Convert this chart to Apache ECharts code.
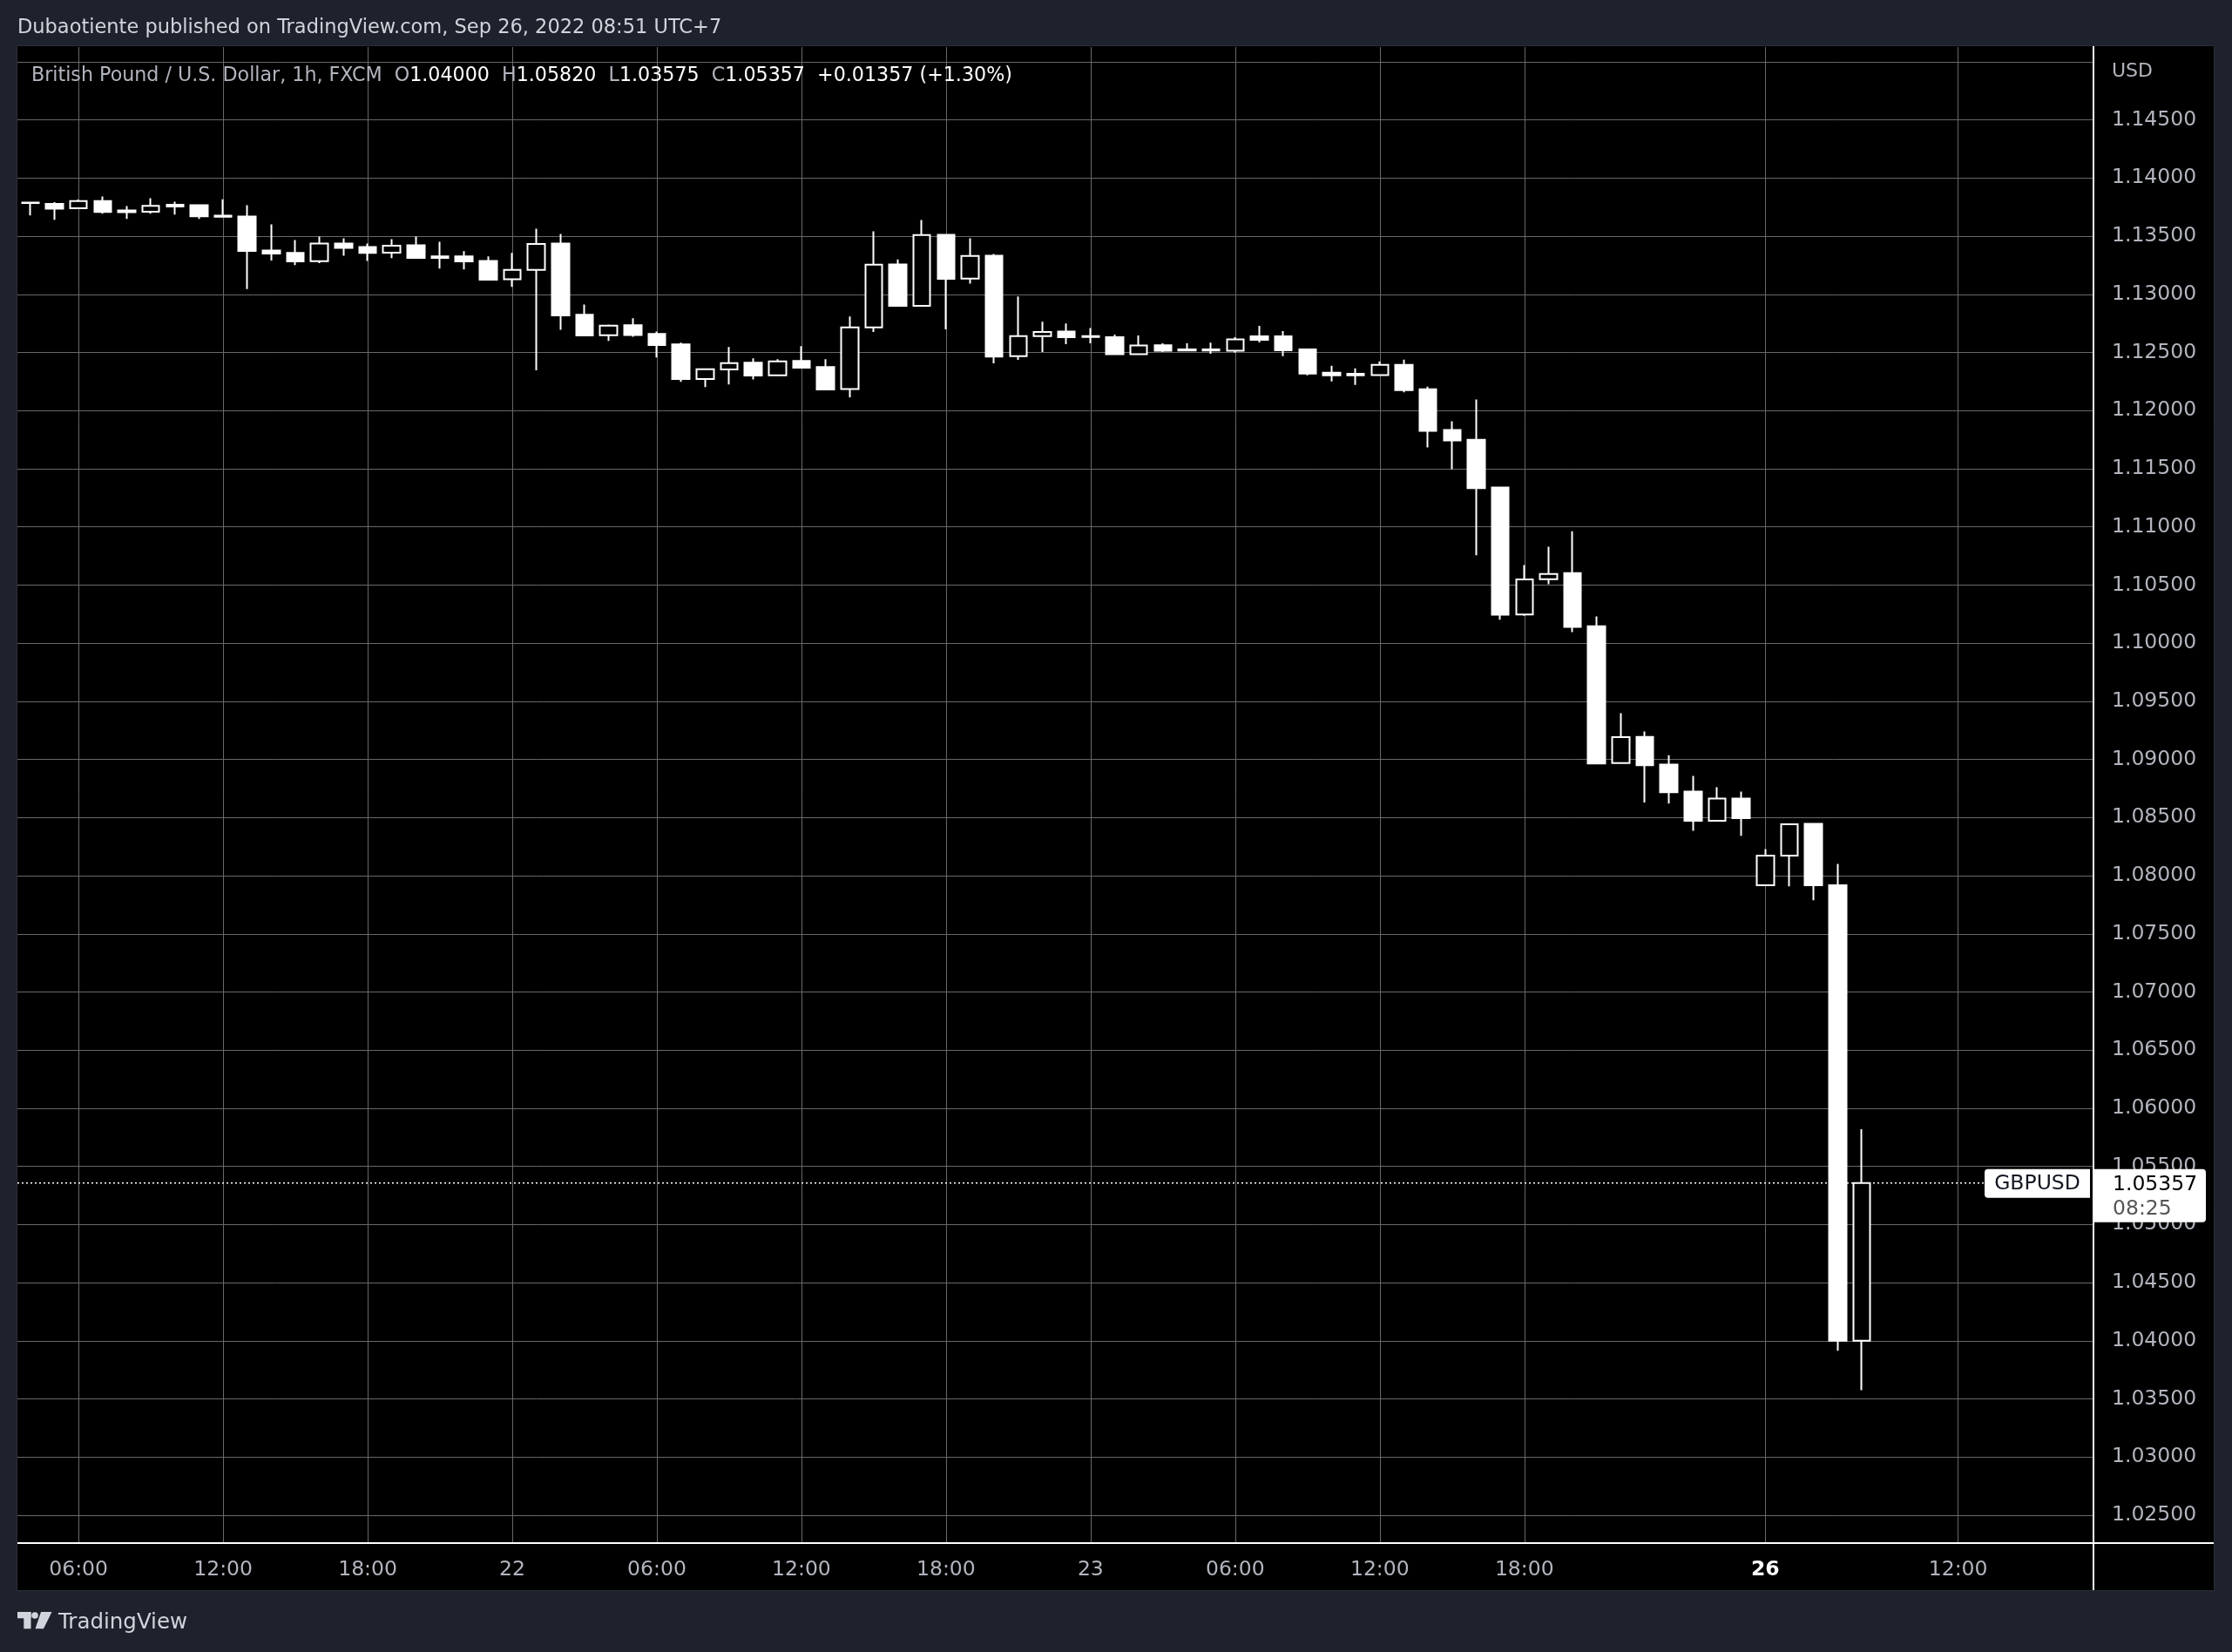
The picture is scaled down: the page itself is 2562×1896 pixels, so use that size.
<!DOCTYPE html>
<html><head><meta charset="utf-8">
<script src="https://cdn.jsdelivr.net/npm/echarts@6/dist/echarts.min.js"></script>
<style>html,body{margin:0;padding:0;background:#1e222d;}#main{width:2562px;height:1896px;}</style>
</head><body><div id="main"></div>
<script>
// ---- categories: hourly bars (UTC+7), weekend gap skipped; last 9 are empty future slots
const categories = [
 '21 04:00','21 05:00','21 06:00','21 07:00','21 08:00','21 09:00','21 10:00','21 11:00','21 12:00','21 13:00',
 '21 14:00','21 15:00','21 16:00','21 17:00','21 18:00','21 19:00','21 20:00','21 21:00','21 22:00','21 23:00',
 '22 00:00','22 01:00','22 02:00','22 03:00','22 04:00','22 05:00','22 06:00','22 07:00','22 08:00','22 09:00',
 '22 10:00','22 11:00','22 12:00','22 13:00','22 14:00','22 15:00','22 16:00','22 17:00','22 18:00','22 19:00',
 '22 20:00','22 21:00','22 22:00','22 23:00',
 '23 00:00','23 01:00','23 02:00','23 03:00','23 04:00','23 05:00','23 06:00','23 07:00','23 08:00','23 09:00',
 '23 10:00','23 11:00','23 12:00','23 13:00','23 14:00','23 15:00','23 16:00','23 17:00','23 18:00','23 19:00',
 '23 20:00','23 21:00','23 22:00','23 23:00',
 '24 00:00','24 01:00','24 02:00','24 03:00',
 '26 04:00','26 05:00','26 06:00','26 07:00','26 08:00','26 09:00','26 10:00','26 11:00','26 12:00','26 13:00',
 '26 14:00','26 15:00','26 16:00','26 17:00'
];

const opens = [
 1.13790,1.13779,1.13741,1.13803,1.13721,1.13711,1.13771,1.13766,1.13677,1.13669,
 1.13378,1.13356,1.13286,1.13438,1.13408,1.13358,1.13423,1.13326,1.13326,1.13288,
 1.13129,1.13210,1.13438,1.12824,1.12649,1.12734,1.12659,1.12569,1.12272,1.12354,
 1.12412,1.12304,1.12427,1.12374,1.12185,1.12716,1.13258,1.12901,1.13512,1.13136,
 1.13333,1.12469,1.12641,1.12681,1.12641,1.12632,1.12485,1.12562,1.12527,1.12527,
 1.12515,1.12639,1.12639,1.12527,1.12326,1.12316,1.12306,1.12393,1.12184,1.11833,
 1.11749,1.11339,1.10247,1.10550,1.10602,1.10146,1.08968,1.09194,1.08956,1.08724,
 1.08472,1.08664,1.07918,1.08172,1.08446,1.07918,1.04000
];
const highs = [
 1.13793,1.13793,1.13816,1.13841,1.13759,1.13826,1.13796,1.13774,1.13818,1.13766,
 1.13602,1.13468,1.13497,1.13482,1.13438,1.13475,1.13497,1.13453,1.13371,1.13326,
 1.13356,1.13565,1.13520,1.12913,1.12741,1.12794,1.12681,1.12584,1.12357,1.12547,
 1.12449,1.12442,1.12554,1.12442,1.12809,1.13542,1.13300,1.13640,1.13512,1.13483,
 1.13348,1.12981,1.12764,1.12749,1.12711,1.12654,1.12647,1.12580,1.12580,1.12585,
 1.12632,1.12729,1.12684,1.12535,1.12386,1.12363,1.12423,1.12438,1.12206,1.11908,
 1.12096,1.11339,1.10671,1.10829,1.10963,1.10229,1.09398,1.09240,1.09037,1.08859,
 1.08761,1.08724,1.08229,1.08443,1.08446,1.08102,1.05820
];
const lows = [
 1.13679,1.13642,1.13740,1.13694,1.13649,1.13694,1.13687,1.13649,1.13664,1.13045,
 1.13291,1.13251,1.13268,1.13333,1.13288,1.13311,1.13313,1.13221,1.13214,1.13127,
 1.13065,1.12347,1.12696,1.12646,1.12599,1.12636,1.12457,1.12247,1.12202,1.12225,
 1.12269,1.12304,1.12369,1.12182,1.12115,1.12676,1.12901,1.12901,1.12699,1.13093,
 1.12407,1.12437,1.12504,1.12571,1.12579,1.12485,1.12485,1.12505,1.12515,1.12490,
 1.12498,1.12587,1.12468,1.12303,1.12251,1.12221,1.12306,1.12157,1.11684,1.11497,
 1.10757,1.10201,1.10235,1.10507,1.10095,1.08965,1.08968,1.08630,1.08621,1.08386,
 1.08472,1.08343,1.07918,1.07908,1.07788,1.03915,1.03575
];
const closes = [
 1.13785,1.13736,1.13803,1.13709,1.13706,1.13761,1.13756,1.13672,1.13667,1.13373,
 1.13351,1.13283,1.13438,1.13400,1.13356,1.13418,1.13313,1.13313,1.13283,1.13127,
 1.13211,1.13433,1.12819,1.12646,1.12731,1.12651,1.12564,1.12272,1.12357,1.12409,
 1.12302,1.12424,1.12369,1.12182,1.12716,1.13255,1.12901,1.13510,1.13133,1.13330,
 1.12464,1.12641,1.12676,1.12631,1.12634,1.12485,1.12560,1.12515,1.12517,1.12517,
 1.12612,1.12609,1.12520,1.12318,1.12303,1.12303,1.12393,1.12177,1.11826,1.11744,
 1.11333,1.10244,1.10548,1.10596,1.10140,1.08965,1.09192,1.08951,1.08718,1.08472,
 1.08664,1.08495,1.08172,1.08443,1.07918,1.04000,1.05357
];

// axis ticks
const yTickValues = [1.025,1.030,1.035,1.040,1.045,1.050,1.055,1.060,1.065,1.070,1.075,1.080,1.085,
  1.090,1.095,1.100,1.105,1.110,1.115,1.120,1.125,1.130,1.135,1.140,1.145,1.150];
const yLabelValues = [1.025,1.030,1.035,1.040,1.045,1.050,1.055,1.060,1.065,1.070,1.075,1.080,1.085,
  1.090,1.095,1.100,1.105,1.110,1.115,1.120,1.125,1.130,1.135,1.140,1.145];
const xTickAt = ['21 06:00','21 12:00','21 18:00','22 00:00','22 06:00','22 12:00','22 18:00',
  '23 00:00','23 06:00','23 12:00','23 18:00','26 04:00','26 12:00'];
const xTickText = ['06:00','12:00','18:00','22','06:00','12:00','18:00','23','06:00','12:00','18:00','26','12:00'];
const xTickStrong = ['26 04:00'];

const headerText = 'Dubaotiente published on TradingView.com, Sep 26, 2022 08:51 UTC+7';
const instrumentText = 'British Pound / U.S. Dollar, 1h, FXCM';
const symbolName = 'GBPUSD';
const countdown = '08:25';
const changeText = '+0.01357 (+1.30%)';

// ---------------------------------------------------------------
const FONT = '"DejaVu Sans"';
const GRID_C = '#686868';
const TXT = '#b2b5be';

const candleData = opens.map((o, i) => [categories.indexOf(categories[i]), o, closes[i], lows[i], highs[i]]);
const xTickIdx = xTickAt.map(k => categories.indexOf(k));
const xTickMap = {};
xTickIdx.forEach((idx, j) => { xTickMap[idx] = { text: xTickText[j], strong: xTickStrong.indexOf(xTickAt[j]) >= 0 }; });

const last = opens.length - 1;
const f5 = v => v.toFixed(5);

const legendRich = '{g|' + instrumentText + '}  {g|O}{w|' + f5(opens[last]) + '}  {g|H}{w|' + f5(highs[last]) +
  '}  {g|L}{w|' + f5(lows[last]) + '}  {g|C}{w|' + f5(closes[last]) + '}  {w|' + changeText + '}';

const chart = echarts.init(document.getElementById('main'), null, { renderer: 'canvas' });

const option = {
  animation: false,
  backgroundColor: '#000000',
  textStyle: { fontFamily: FONT },
  title: [
    { text: headerText, left: 20, top: 19, padding: 0, z: 20,
      textStyle: { color: '#d1d4dc', fontSize: 22.5, fontWeight: 'normal', fontFamily: FONT, lineHeight: 26 } },
    { text: legendRich, left: 36, top: 74, padding: 0, z: 20,
      textStyle: { fontSize: 22.2, fontWeight: 'normal', fontFamily: FONT, lineHeight: 26,
        rich: { g: { color: TXT, fontSize: 22.2, fontWeight: 'normal', fontFamily: FONT, lineHeight: 26 },
                w: { color: '#ffffff', fontSize: 22.2, fontWeight: 'normal', fontFamily: FONT, lineHeight: 26 } } } },
    { text: 'USD', left: 2424, top: 69, padding: 0, z: 20,
      textStyle: { color: TXT, fontSize: 22, fontWeight: 'normal', fontFamily: FONT, lineHeight: 26 } }
  ],
  grid: { left: 20, right: 160, top: 54, bottom: 125, containLabel: false },
  xAxis: {
    type: 'value', min: -0.535, max: 85.58,
    axisLine: { show: false },
    axisTick: { show: false, customValues: xTickIdx },
    splitLine: { show: true, lineStyle: { color: GRID_C, width: 1 } },
    axisLabel: {
      customValues: xTickIdx, margin: 19, color: TXT, fontSize: 23.5, fontFamily: FONT,
      formatter: v => { const t = xTickMap[v]; if (!t) return ''; return t.strong ? '{s|' + t.text + '}' : t.text; },
      rich: { s: { color: '#ffffff', fontWeight: 'bold', fontSize: 23.5, fontFamily: FONT } }
    }
  },
  yAxis: {
    type: 'value', position: 'right', min: 1.0226, max: 1.15127, scale: true,
    axisLine: { show: false },
    axisTick: { show: false, customValues: yTickValues },
    splitLine: { show: true, lineStyle: { color: GRID_C, width: 1 } },
    axisLabel: { customValues: yLabelValues, formatter: v => f5(v), color: TXT, fontSize: 23.5,
      fontFamily: FONT, margin: 22, align: 'left', verticalAlign: 'middle', lineHeight: 34, padding: [6, 0, 0, 0] }
  },
  series: [{
    type: 'candlestick',
    data: candleData,
    barWidth: 20,
    silent: true,
    itemStyle: { color: '#000000', color0: '#ffffff', borderColor: '#ffffff', borderColor0: '#ffffff', borderWidth: 2 }
  }]
};
chart.setOption(option);

// last-price guide line and tags, placed through the y scale
const py = chart.convertToPixel({ yAxisIndex: 0 }, closes[last]);
const frame = '#1e222d', border = '#2a2e39';
chart.setOption({
  graphic: [
    { type: 'line', z: 1, shape: { x1: 20, y1: py, x2: 2400, y2: py }, style: { stroke: '#ffffff', lineWidth: 1.5, lineDash: [2, 3] }, silent: true },
    // outer frame bands
    { type: 'rect', z: 10, shape: { x: 0, y: 0, width: 2562, height: 53 }, style: { fill: frame }, silent: true },
    { type: 'rect', z: 10, shape: { x: 0, y: 1825, width: 2562, height: 71 }, style: { fill: frame }, silent: true },
    { type: 'rect', z: 10, shape: { x: 0, y: 0, width: 20, height: 1896 }, style: { fill: frame }, silent: true },
    { type: 'rect', z: 10, shape: { x: 2541, y: 0, width: 21, height: 1896 }, style: { fill: frame }, silent: true },
    { type: 'rect', z: 11, shape: { x: 19.5, y: 52.5, width: 2522, height: 1773 }, style: { fill: null, stroke: border, lineWidth: 1 }, silent: true },
    // axis separators
    { type: 'line', z: 12, shape: { x1: 20, y1: 1771, x2: 2541, y2: 1771 }, style: { stroke: '#ffffff', lineWidth: 2 }, silent: true },
    { type: 'line', z: 12, shape: { x1: 2403, y1: 53, x2: 2403, y2: 1825 }, style: { stroke: '#ffffff', lineWidth: 2 }, silent: true },
    // last price tags
    { type: 'rect', z: 13, shape: { x: 2278, y: py - 16, width: 121, height: 33, r: [4, 0, 0, 4] }, style: { fill: '#ffffff' }, silent: true },
    { type: 'text', z: 14, style: { text: symbolName, x: 2338.5, y: py + 1, align: 'center', verticalAlign: 'middle', font: '23.5px ' + FONT, fill: '#131722' }, silent: true },
    { type: 'rect', z: 13, shape: { x: 2404, y: py - 16, width: 128, height: 61, r: [0, 4, 4, 0] }, style: { fill: '#ffffff' }, silent: true },
    { type: 'text', z: 14, style: { text: f5(closes[last]), x: 2425, y: py + 2, verticalAlign: 'middle', font: '23.5px ' + FONT, fill: '#000000' }, silent: true },
    { type: 'text', z: 14, style: { text: countdown, x: 2425, y: py + 30, verticalAlign: 'middle', font: '23.5px ' + FONT, fill: '#555555' }, silent: true },
    // TradingView logo
    { type: 'rect', z: 14, shape: { x: 20, y: 1850, width: 15.5, height: 7.3 }, style: { fill: '#d1d4dc' }, silent: true },
    { type: 'rect', z: 14, shape: { x: 27.3, y: 1850, width: 8.2, height: 19.3 }, style: { fill: '#d1d4dc' }, silent: true },
    { type: 'circle', z: 14, shape: { cx: 40, cy: 1854, r: 3.8 }, style: { fill: '#d1d4dc' }, silent: true },
    { type: 'polygon', z: 14, shape: { points: [[47, 1850], [59.5, 1850], [50, 1869.3], [40.5, 1869.3]] }, style: { fill: '#d1d4dc' }, silent: true },
    { type: 'text', z: 14, style: { text: 'TradingView', x: 67, y: 1863, verticalAlign: 'middle', font: '24.5px ' + FONT, fill: '#d1d4dc' }, silent: true }
  ]
});
</script></body></html>
